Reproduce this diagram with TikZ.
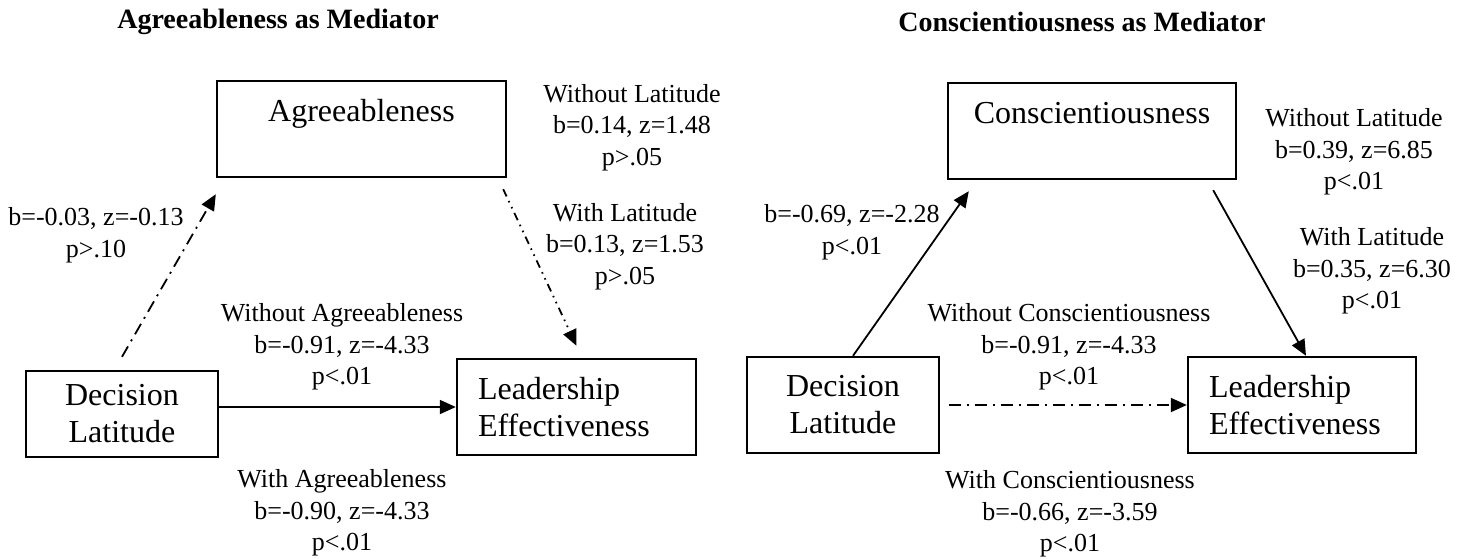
\documentclass[tikz,border=0pt]{standalone}
\usepackage{fontspec}
\setmainfont{Liberation Serif}
\usetikzlibrary{arrows.meta}

\begin{document}
\begin{tikzpicture}[x=0.5pt, y=-0.5pt,
    ttl/.style={font=\fontsize{14}{17}\selectfont\bfseries},
    construct/.style={draw, line width=1.2pt, align=center, inner sep=0pt,
      font=\fontsize{16}{18.5}\selectfont},
    outcome/.style={construct, align=left, inner xsep=10.5pt, minimum height=48pt},
    stat/.style={align=center, inner sep=0pt, font=\fontsize{13}{15.75}\selectfont},
    arr/.style={line width=0.9pt, -{Triangle[length=8pt,width=7pt]}},
    dashdotline/.style={dash pattern=on 6pt off 3pt on 1pt off 3pt},
    dashdotdotline/.style={dash pattern=on 4pt off 2.5pt on 0.8pt off 2.5pt on 0.8pt off 2.5pt}]
      \useasboundingbox (0,0) rectangle (1473,558);

      % agreeableness
      \node[ttl] (titleA) at (278,22) {Agreeableness as Mediator};
      \node[construct, minimum width=144.5pt, minimum height=48pt] (agr) at (361.5,129) {Agreeableness\\\mbox{}};
      \node[construct, minimum width=96pt, minimum height=43pt] (dlA) at (122,414) {Decision\\Latitude};
      \node[outcome, text width=98.5pt] (leA) at (576.5,407) {Leadership\\Effectiveness};

      \node[stat] (pathA1) at (96,235) {b=-0.03, z=-0.13\\p>.10};
      \node[stat] (pathA2) at (632,127.5) {Without Latitude\\b=0.14, z=1.48\\p>.05};
      \node[stat] (pathA3) at (625,246.5) {With Latitude\\b=0.13, z=1.53\\p>.05};
      \node[stat] (pathA4) at (342,347) {Without Agreeableness\\b=-0.91, z=-4.33\\p<.01};
      \node[stat] (pathA5) at (342,513) {With Agreeableness\\b=-0.90, z=-4.33\\p<.01};

      \draw[arr, dashdotline] ([yshift=6.5pt]dlA.north) -- ([yshift=-8pt]agr.south west);
      \draw[arr, dashdotdotline] ([xshift=-2pt,yshift=-5.5pt]agr.south east) -- ([yshift=6pt]leA.north);
      \draw[arr] (dlA.east |- leA.west) -- (leA.west);

      % conscientiousness
      \node[ttl] (titleB) at (1082,22) {Conscientiousness as Mediator};
      \node[construct, minimum width=144pt, minimum height=48pt] (con) at (1092,131) {Conscientiousness\\\mbox{}};
      \node[construct, minimum width=96pt, minimum height=48pt] (dlB) at (843,405) {Decision\\Latitude};
      \node[outcome, text width=93pt] (leB) at (1302,405) {Leadership\\Effectiveness};

      \node[stat] (pathB1) at (852,232) {b=-0.69, z=-2.28\\p<.01};
      \node[stat] (pathB2) at (1354,152) {Without Latitude\\b=0.39, z=6.85\\p<.01};
      \node[stat] (pathB3) at (1372,271) {With Latitude\\b=0.35, z=6.30\\p<.01};
      \node[stat] (pathB4) at (1069,347) {Without Conscientiousness\\b=-0.91, z=-4.33\\p<.01};
      \node[stat] (pathB5) at (1070,514) {With Conscientiousness\\b=-0.66, z=-3.59\\p<.01};

      \draw[arr] ([xshift=5pt]dlB.north) -- ([xshift=11pt,yshift=-5.5pt]con.south west);
      \draw[arr] ([xshift=-12pt,yshift=-5pt]con.south east) -- ([xshift=2pt]leB.north);
      \draw[arr, dashdotline] ([xshift=4.5pt]dlB.east) -- (leB.west);
    \end{tikzpicture}
\end{document}
